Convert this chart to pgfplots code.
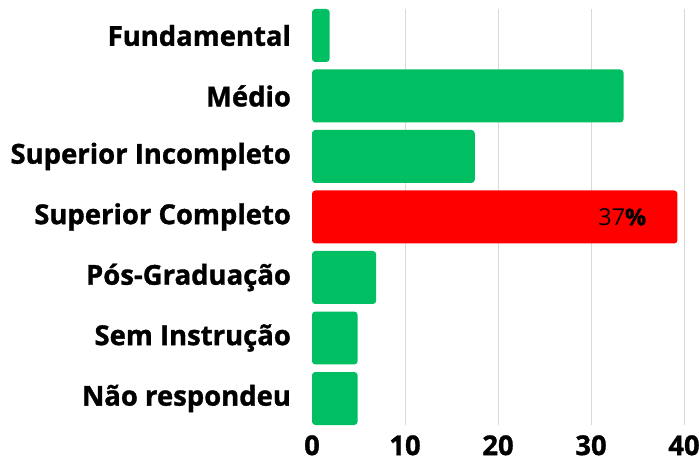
\documentclass[border=0pt]{standalone}
\usepackage{fontspec}
\setmainfont{Open Sans}[BoldFeatures={FakeBold=1.2}]
\usepackage{pgfplots}
\pgfplotsset{compat=1.18}
\definecolor{barGreen}{HTML}{00BF63}
\definecolor{barRed}{HTML}{FF0000}
\definecolor{gridGray}{HTML}{D9D9D9}
\begin{document}
\begin{tikzpicture}
\begin{axis}[
    at={(234pt,30.75pt)}, anchor=south west,
    scale only axis,
    width=279pt, height=312pt,
    xbar, bar shift=0pt, bar width=0.876,
    xmin=0, xmax=40,
    ymin=-0.438, ymax=6.438,
    y dir=reverse,
    axis line style={draw=none},
    tick style={draw=none},
    xtick={10,20,30,40},
    extra x ticks={0},
    extra x tick style={grid=none},
    xmajorgrids=true,
    grid style={gridGray, line width=0.75pt},
    ytick={0,1,2,3,4,5,6},
    yticklabels={Fundamental, Médio, Superior Incompleto, Superior Completo, Pós-Graduação, Sem Instrução, Não respondeu},
    yticklabel style={font=\bfseries\fontsize{20.6}{22}\selectfont, xshift=-8pt},
    xticklabel style={font=\bfseries\fontsize{20.5}{22}\selectfont, inner sep=0pt, yshift=-7.5pt},
    /pgf/number format/assume math mode=true,
    clip=false,
]
\addplot[fill=barGreen, draw=none, rounded corners=2.5pt] coordinates {
    (1.9,0) (33.5,1) (17.5,2) (6.9,4) (4.9,5) (4.9,6)
};
\addplot[fill=barRed, draw=none, rounded corners=2.5pt,
    nodes near coords={37\textbf{\%}},
    every node near coord/.style={anchor=east, xshift=-20pt, black, font=\fontsize{17.5}{19}\selectfont}] coordinates {
    (39.3,3)
};
\end{axis}
\pgfresetboundingbox
\path[use as bounding box] (0,0) rectangle (524.25pt,349.5pt);
\end{tikzpicture}
\end{document}
